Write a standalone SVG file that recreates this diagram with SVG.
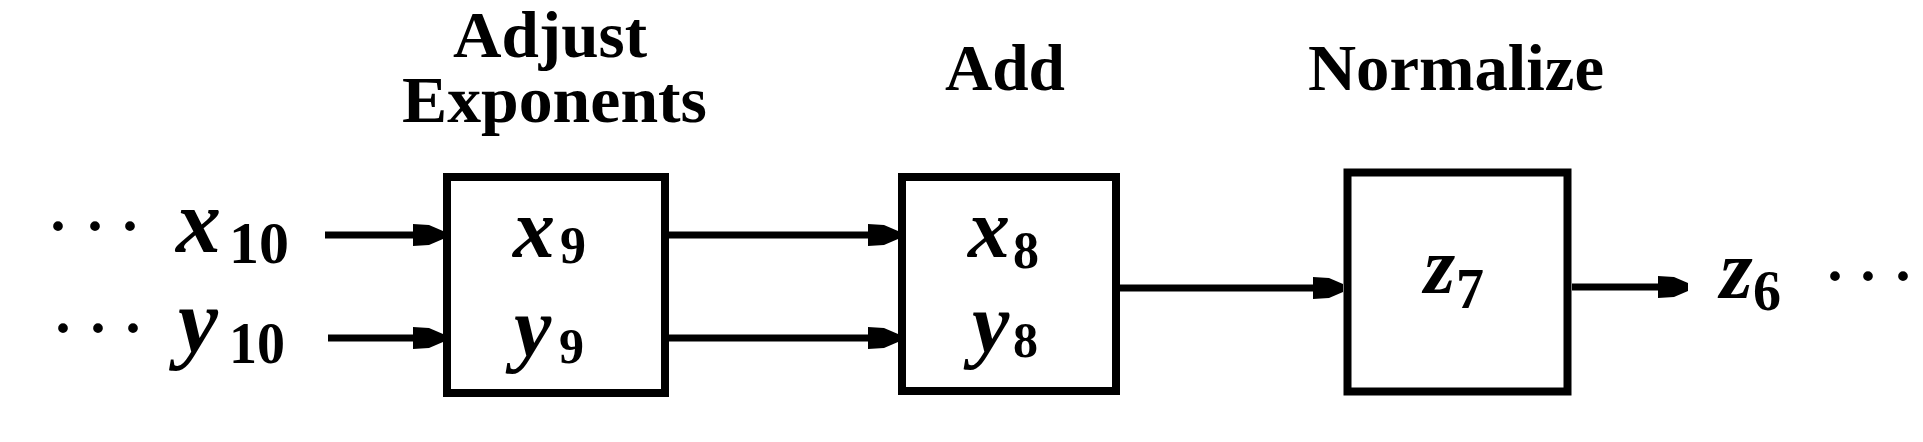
<svg xmlns="http://www.w3.org/2000/svg" width="1923" height="442" viewBox="0 0 1923 442">
<style>
.title{font-family:"Liberation Serif","Times New Roman",serif;font-weight:bold;font-size:65px;fill:#000}
.var{font-family:"Liberation Serif","Times New Roman",serif;font-weight:bold;font-style:italic;fill:#000}
.sub{font-family:"Liberation Serif","Times New Roman",serif;font-weight:bold;fill:#000}
.dots{font-family:"Liberation Serif","Times New Roman",serif;font-weight:bold;font-size:60px;fill:#000}
.box{fill:none;stroke:#000;stroke-width:8}
.wire{fill:none;stroke:#000;stroke-width:7;marker-end:url(#ah)}
</style>
<defs>
<marker id="ah" markerUnits="userSpaceOnUse" markerWidth="34" markerHeight="26" refX="30" refY="13" orient="auto" viewBox="0 0 34 26">
<path d="M0 2 L16 3 L30 9 L30 17 L16 23 L0 24 Z" fill="#000"/>
</marker>
</defs>
<rect width="1923" height="442" fill="#fff"/>
<g id="inputs">
<text class="dots" text-anchor="middle" x="58 95 130" y="246">···</text>
<text class="var" font-size="90" x="176" y="252">x</text>
<text class="sub" font-size="60" x="229" y="263" textLength="60" lengthAdjust="spacingAndGlyphs">10</text>
<text class="dots" text-anchor="middle" x="63 98 133" y="348">···</text>
<text class="var" font-size="90" x="178" y="352">y</text>
<text class="sub" font-size="60" x="229" y="363" textLength="56" lengthAdjust="spacingAndGlyphs">10</text>
</g>
<g id="adjust">
<text class="title" font-size="58" x="453" y="57" textLength="194" lengthAdjust="spacingAndGlyphs">Adjust</text>
<text class="title" x="402" y="122" textLength="305" lengthAdjust="spacingAndGlyphs">Exponents</text>
<rect class="box" x="447" y="177" width="218" height="216"/>
<text class="var" font-size="84" x="513" y="257">x</text>
<text class="sub" font-size="52" x="560" y="263">9</text>
<text class="var" font-size="84" x="514" y="356">y</text>
<text class="sub" font-size="50" x="559" y="363">9</text>
</g>
<g id="add">
<text class="title" x="945" y="90" textLength="120" lengthAdjust="spacingAndGlyphs">Add</text>
<rect class="box" x="902" y="177" width="214" height="214"/>
<text class="var" font-size="84" x="968" y="257">x</text>
<text class="sub" font-size="52" x="1013" y="268">8</text>
<text class="var" font-size="84" x="972" y="352">y</text>
<text class="sub" font-size="50" x="1013" y="357">8</text>
</g>
<g id="normalize">
<text class="title" x="1308" y="90" textLength="296" lengthAdjust="spacingAndGlyphs">Normalize</text>
<rect class="box" x="1347.5" y="172.5" width="220" height="219" stroke-width="9"/>
<text class="var" font-size="80" x="1424" y="293">z</text>
<text class="sub" font-size="56" x="1456" y="308">7</text>
</g>
<g id="output">
<text class="var" font-size="84" x="1720" y="298">z</text>
<text class="sub" font-size="56" x="1753" y="310">6</text>
<text class="dots" text-anchor="middle" x="1835 1868 1903" y="296">···</text>
</g>
<g id="connectors">
<line class="wire" x1="325" y1="235" x2="443" y2="235"/>
<line class="wire" x1="328" y1="338" x2="443" y2="338"/>
<line class="wire" x1="669" y1="235" x2="898" y2="235"/>
<line class="wire" x1="669" y1="338" x2="898" y2="338"/>
<line class="wire" x1="1120" y1="288" x2="1343" y2="288"/>
<line class="wire" x1="1572" y1="287" x2="1688" y2="287"/>
</g>
</svg>
